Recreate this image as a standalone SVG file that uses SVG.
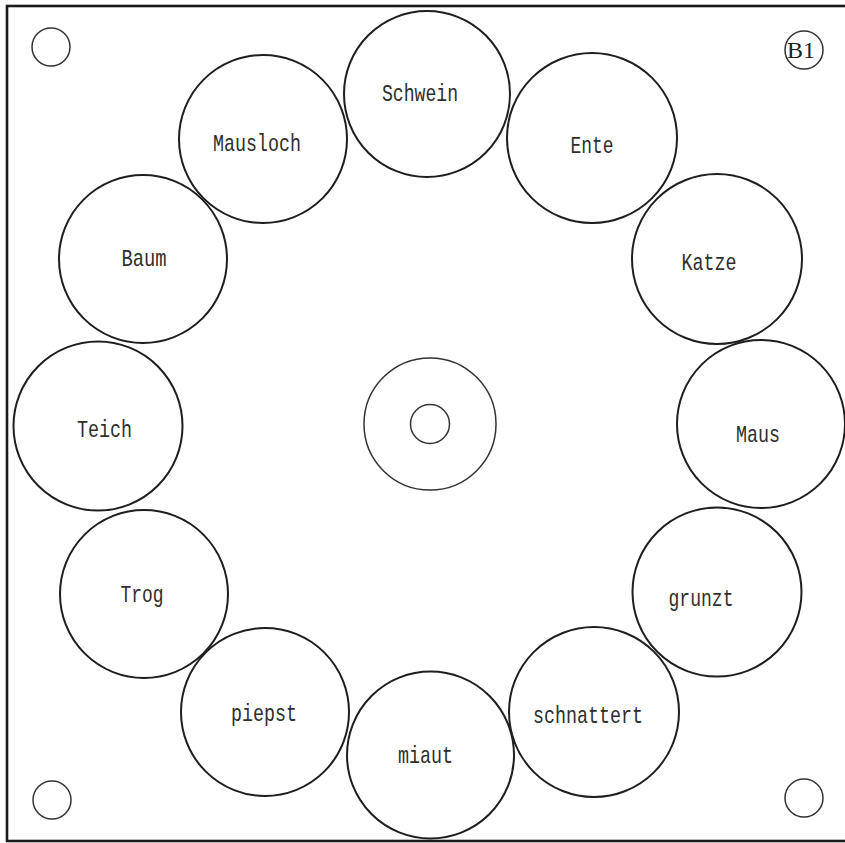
<svg xmlns="http://www.w3.org/2000/svg" width="845" height="843" viewBox="0 0 845 843">
<style>
.bg{fill:#ffffff}
.frame{fill:none;stroke:#1a1a1a;stroke-width:2.6}
.node{fill:none;stroke:#1e1e1e;stroke-width:2}
.hole{fill:none;stroke:#333333;stroke-width:1.5}
.lbl{font-family:"Liberation Mono","DejaVu Sans Mono",monospace;font-size:24px;fill:#2e2e2e;text-anchor:middle}
.tag{font-family:"Liberation Serif","DejaVu Serif",serif;font-size:23px;fill:#222222;text-anchor:middle}
</style>
<rect class="bg" x="0" y="0" width="845" height="843"/>
<rect class="frame" x="7" y="6" width="850" height="835"/>
<g id="holes">
<circle class="hole" cx="51" cy="47" r="19"/>
<circle class="hole" cx="52" cy="800" r="19"/>
<circle class="hole" cx="804" cy="798" r="19"/>
</g>
<g id="tag-B1">
<circle class="hole" cx="804" cy="50" r="19"/>
<text class="tag" x="801" y="58" textLength="28" lengthAdjust="spacingAndGlyphs">B1</text>
</g>
<g id="center">
<circle class="hole" cx="430" cy="424" r="66"/>
<circle class="hole" cx="430" cy="424" r="19.5"/>
</g>
<g id="connectors"></g>
<g id="n-schwein"><circle class="node" cx="427" cy="94" r="83"/><text class="lbl" x="420" y="101" textLength="76" lengthAdjust="spacingAndGlyphs">Schwein</text></g>
<g id="n-ente"><circle class="node" cx="592" cy="138" r="85"/><text class="lbl" x="592" y="153" textLength="43" lengthAdjust="spacingAndGlyphs">Ente</text></g>
<g id="n-katze"><circle class="node" cx="717" cy="259" r="85"/><text class="lbl" x="709" y="270" textLength="55" lengthAdjust="spacingAndGlyphs">Katze</text></g>
<g id="n-maus"><circle class="node" cx="761" cy="424" r="84"/><text class="lbl" x="758" y="442" textLength="44" lengthAdjust="spacingAndGlyphs">Maus</text></g>
<g id="n-grunzt"><circle class="node" cx="717" cy="592" r="84.5"/><text class="lbl" x="701" y="606" textLength="65" lengthAdjust="spacingAndGlyphs">grunzt</text></g>
<g id="n-schnattert"><circle class="node" cx="594" cy="712" r="85"/><text class="lbl" x="588" y="723" textLength="110" lengthAdjust="spacingAndGlyphs">schnattert</text></g>
<g id="n-miaut"><circle class="node" cx="430.5" cy="755" r="83.5"/><text class="lbl" x="425.5" y="763" textLength="55" lengthAdjust="spacingAndGlyphs">miaut</text></g>
<g id="n-piepst"><circle class="node" cx="265" cy="712" r="84"/><text class="lbl" x="264" y="721" textLength="66" lengthAdjust="spacingAndGlyphs">piepst</text></g>
<g id="n-trog"><circle class="node" cx="144" cy="594" r="84"/><text class="lbl" x="142" y="602" textLength="43" lengthAdjust="spacingAndGlyphs">Trog</text></g>
<g id="n-teich"><circle class="node" cx="98" cy="426" r="84.5"/><text class="lbl" x="104.5" y="437" textLength="55" lengthAdjust="spacingAndGlyphs">Teich</text></g>
<g id="n-baum"><circle class="node" cx="143" cy="259" r="84"/><text class="lbl" x="144" y="266" textLength="45" lengthAdjust="spacingAndGlyphs">Baum</text></g>
<g id="n-mausloch"><circle class="node" cx="263" cy="139" r="84"/><text class="lbl" x="257" y="151" textLength="88" lengthAdjust="spacingAndGlyphs">Mausloch</text></g>
</svg>
